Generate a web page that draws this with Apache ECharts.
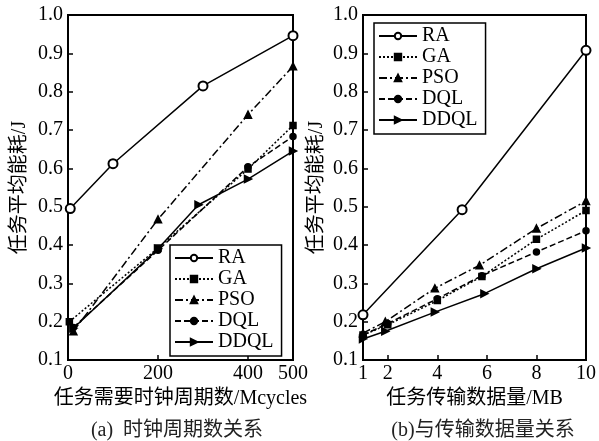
<!DOCTYPE html>
<html>
<head>
<meta charset="utf-8">
<script src="https://cdn.jsdelivr.net/npm/echarts@6/dist/echarts.min.js"></script>
<style>
html,body{margin:0;padding:0;background:#fff;}
#c{width:599px;height:441px;}
</style>
</head>
<body>
<div id="c"></div>
<script>
// ---- data: (a) clock cycles ----
const seriesNames = ['RA', 'GA', 'PSO', 'DQL', 'DDQL'];
const cyclesRA = [5, 100, 300, 500];
const energyRA_a = [0.495, 0.612, 0.815, 0.946];
const cyclesGA = [3, 200, 400, 500];
const energyGA_a = [0.200, 0.392, 0.598, 0.712];
const cyclesPSO = [12, 200, 400, 500];
const energyPSO_a = [0.175, 0.467, 0.740, 0.866];
const cyclesDQL = [12, 200, 400, 500];
const energyDQL_a = [0.185, 0.386, 0.604, 0.683];
const cyclesDDQL = [12, 200, 290, 400, 500];
const energyDDQL_a = [0.183, 0.390, 0.505, 0.572, 0.645];
const cycleTicks = [0, 200, 400, 500];

// ---- data: (b) data size ----
const sizeRA = [1, 5, 10];
const energyRA_b = [0.218, 0.492, 0.908];
const sizeGA = [1, 2, 4, 5.8, 8, 10];
const energyGA_b = [0.165, 0.192, 0.255, 0.318, 0.415, 0.490];
const sizePSO = [1, 1.9, 3.9, 5.7, 8, 10];
const energyPSO_b = [0.170, 0.200, 0.287, 0.347, 0.443, 0.515];
const sizeDQL = [1, 2, 4, 5.8, 8, 10];
const energyDQL_b = [0.165, 0.195, 0.260, 0.320, 0.382, 0.437];
const sizeDDQL = [1, 1.9, 3.9, 5.9, 8, 10];
const energyDDQL_b = [0.155, 0.175, 0.225, 0.273, 0.338, 0.392];
const sizeTicks = [1, 2, 4, 6, 8, 10];

const yName = '任务平均能耗/J';
const xNameA = '任务需要时钟周期数/Mcycles';
const xNameB = '任务传输数据量/MB';
const captionA = '(a)  时钟周期数关系';
const captionB = '(b)与传输数据量关系';

const zip = (xs, ys) => xs.map((x, i) => [x, ys[i]]);
const serif = '"Liberation Serif","Times New Roman",serif';
const cjk = '"Liberation Serif","Noto Sans CJK SC",serif';

const styles = {
  RA:   {symbol: 'emptyCircle', symbolSize: 9, type: 'solid', rotate: 0},
  GA:   {symbol: 'rect', symbolSize: 6, type: [2, 2], rotate: 0},
  PSO:  {symbol: 'triangle', symbolSize: 7, type: [8, 3, 2, 3], rotate: 0},
  DQL:  {symbol: 'circle', symbolSize: 6, type: [6, 3], rotate: 0},
  DDQL: {symbol: 'triangle', symbolSize: 7, type: 'solid', rotate: -90}
};

function mk(name, data, idx) {
  const s = styles[name];
  return {
    name: name, type: 'line', xAxisIndex: idx, yAxisIndex: idx,
    data: data, symbol: s.symbol, symbolSize: s.symbolSize, symbolRotate: s.rotate,
    clip: false, animation: false,
    lineStyle: {color: '#000', width: 1.5, type: s.type},
    itemStyle: {color: '#000', borderColor: '#000', borderWidth: 1.5}
  };
}

const dataA = {
  RA: zip(cyclesRA, energyRA_a), GA: zip(cyclesGA, energyGA_a),
  PSO: zip(cyclesPSO, energyPSO_a), DQL: zip(cyclesDQL, energyDQL_a),
  DDQL: zip(cyclesDDQL, energyDDQL_a)
};
const dataB = {
  RA: zip(sizeRA, energyRA_b), GA: zip(sizeGA, energyGA_b),
  PSO: zip(sizePSO, energyPSO_b), DQL: zip(sizeDQL, energyDQL_b),
  DDQL: zip(sizeDDQL, energyDDQL_b)
};

function yAxis(idx, gap) {
  return {
    type: 'value', gridIndex: idx, min: 0.1, max: 1.0, interval: 0.1,
    name: yName, nameLocation: 'middle', nameGap: gap, nameRotate: 90,
    nameTextStyle: {color: '#000', fontSize: 20, fontFamily: cjk},
    axisLine: {show: true, lineStyle: {color: '#000', width: 2}},
    axisTick: {show: true, inside: true, length: 5, lineStyle: {color: '#000', width: 1.5}},
    axisLabel: {color: '#000', fontSize: 20, fontFamily: serif, margin: 5,
      formatter: v => v.toFixed(1)},
    splitLine: {show: false}
  };
}
function xAxis(idx, min, max, ticks, name) {
  return {
    type: 'value', gridIndex: idx, min: min, max: max,
    name: name, nameLocation: 'middle', nameGap: 23,
    nameTextStyle: {color: '#000', fontSize: 20, fontFamily: cjk},
    axisLine: {show: true, lineStyle: {color: '#000', width: 2}},
    axisTick: {show: true, inside: true, length: 5, customValues: ticks, lineStyle: {color: '#000', width: 1.5}},
    axisLabel: {color: '#000', fontSize: 20, fontFamily: serif, margin: 4, customValues: ticks},
    splitLine: {show: false}
  };
}

const chart = echarts.init(document.getElementById('c'));
const legendCommon = {
  orient: 'vertical', itemWidth: 38, itemHeight: 8, itemGap: 1,
  backgroundColor: '#fff', borderColor: '#000', borderWidth: 1.5, borderRadius: 0,
  padding: [3, 8, 4, 4],
  textStyle: {color: '#000', fontSize: 20, fontFamily: serif, lineHeight: 20},
  data: seriesNames
};
chart.setOption({
  animation: false,
  title: [
    {text: captionA, left: 172, top: 416, textAlign: 'center',
      textStyle: {color: '#222', fontSize: 20, fontWeight: 'normal', fontFamily: cjk}},
    {text: captionB, left: 478, top: 416, textAlign: 'center',
      textStyle: {color: '#222', fontSize: 20, fontWeight: 'normal', fontFamily: cjk}}
  ],
  grid: [
    {left: 68, top: 15, width: 225, height: 345, show: true, borderColor: '#000', borderWidth: 2, backgroundColor: 'transparent'},
    {left: 363, top: 15, width: 226, height: 345, show: true, borderColor: '#000', borderWidth: 2, backgroundColor: 'transparent'}
  ],
  legend: [
    Object.assign({left: 170, top: 245}, legendCommon),
    Object.assign({left: 374, top: 23}, legendCommon)
  ],
  xAxis: [xAxis(0, 0, 500, cycleTicks, xNameA), xAxis(1, 1, 10, sizeTicks, xNameB)],
  yAxis: [yAxis(0, 38), yAxis(1, 36)],
  series: seriesNames.map(n => mk(n, dataA[n], 0)).concat(seriesNames.map(n => mk(n, dataB[n], 1)))
});
</script>
</body>
</html>
